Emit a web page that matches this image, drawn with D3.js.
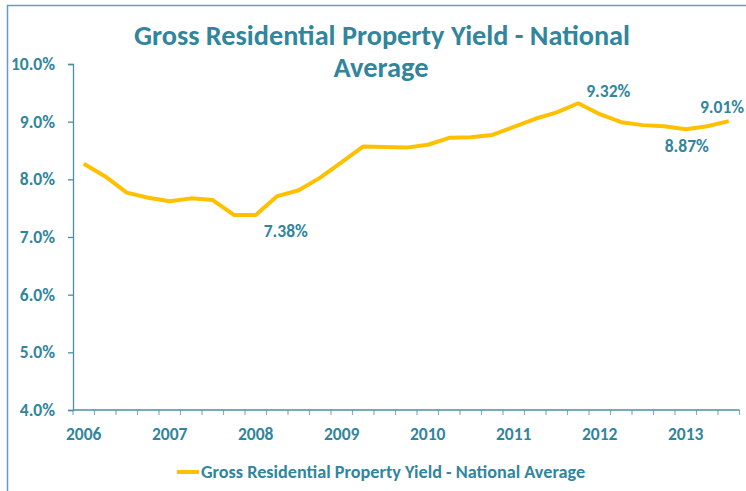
<!DOCTYPE html>
<html>
<head>
<meta charset="utf-8">
<script src="https://cdn.jsdelivr.net/npm/d3@7"></script>
<style>
  html, body { margin: 0; padding: 0; background: #fff; overflow: hidden; }
  svg { display: block; }
  text { font-family: Carlito, Calibri, Lato, "Open Sans", sans-serif; font-weight: bold; fill: #31859C; }
</style>
</head>
<body>
<svg id="chart" width="746" height="491"></svg>
<script>
// ---- data ----
const categories = [
  "2006 Q1","2006 Q2","2006 Q3","2006 Q4",
  "2007 Q1","2007 Q2","2007 Q3","2007 Q4",
  "2008 Q1","2008 Q2","2008 Q3","2008 Q4",
  "2009 Q1","2009 Q2","2009 Q3","2009 Q4",
  "2010 Q1","2010 Q2","2010 Q3","2010 Q4",
  "2011 Q1","2011 Q2","2011 Q3","2011 Q4",
  "2012 Q1","2012 Q2","2012 Q3","2012 Q4",
  "2013 Q1","2013 Q2","2013 Q3"
];
const yieldValues = [
  8.27, 8.05, 7.77, 7.68, 7.62, 7.67, 7.64, 7.38,
  7.38, 7.71, 7.81, 8.03, 8.30, 8.57, 8.56, 8.55,
  8.60, 8.72, 8.73, 8.77, 8.91, 9.05, 9.16, 9.32,
  9.13, 8.99, 8.94, 8.92, 8.87, 8.92, 9.01
];
const yearLabels = ["2006","2007","2008","2009","2010","2011","2012","2013"];
const yTicks = [4, 5, 6, 7, 8, 9, 10];
const labelledIndex = [8, 23, 28, 30];
const seriesName = "Gross Residential Property Yield - National Average";
const titleLines = ["Gross Residential Property Yield - National", "Average"];

// ---- layout ----
const TEAL = "#31859C";
const AXIS = "#4A8FA6";
const GOLD = "#FFC000";
const svg = d3.select("#chart");

// outer chart border
svg.append("rect")
  .attr("x", 7.5).attr("y", 5.5)
  .attr("width", 800).attr("height", 600)
  .attr("fill", "none").attr("stroke", "#6F95D0").attr("stroke-width", 1.5);

const x = d3.scaleBand().domain(categories).range([73, 739.5]).padding(0);
const y = d3.scaleLinear().domain([4, 10]).range([410, 64]);

function fitText(sel, target) {
  sel.each(function () {
    const el = d3.select(this);
    const fs = parseFloat(el.attr("font-size"));
    const w = this.getComputedTextLength();
    if (w > 0) el.attr("font-size", (fs * target / w).toFixed(2));
  });
}

// title
const title = svg.append("g");
title.append("text").attr("x", 382).attr("y", 45).attr("text-anchor", "middle")
  .attr("font-size", 26).text(titleLines[0]).call(fitText, 496);
title.append("text").attr("x", 381).attr("y", 77).attr("text-anchor", "middle")
  .attr("font-size", 26).text(titleLines[1]).call(fitText, 95);

// y axis
const yAxis = svg.append("g").attr("transform", "translate(73,0)")
  .call(d3.axisLeft(y).tickValues(yTicks).tickFormat(d => d.toFixed(1) + "%").tickSize(5).tickPadding(13));
yAxis.select(".domain").attr("stroke", AXIS).attr("stroke-width", 1.3);
yAxis.selectAll(".tick line").attr("stroke", AXIS).attr("stroke-width", 1.3);
yAxis.selectAll(".tick text").attr("font-size", 17.5).attr("fill", TEAL)
  .attr("font-family", null);

// x axis (category boundaries as ticks)
const xg = svg.append("g");
const x0 = x.range()[0], x1 = x.range()[1];
xg.append("line").attr("x1", x0).attr("x2", x1).attr("y1", y(4)).attr("y2", y(4))
  .attr("stroke", AXIS).attr("stroke-width", 1.3);
const boundaries = categories.map(c => x(c)).concat([x1]);
xg.selectAll("line.tk").data(boundaries).join("line").attr("class", "tk")
  .attr("x1", d => d).attr("x2", d => d)
  .attr("y1", y(4)).attr("y2", y(4) + 5)
  .attr("stroke", AXIS).attr("stroke-opacity", 0.7).attr("stroke-width", 1.2);
xg.selectAll("text.yr").data(yearLabels).join("text").attr("class", "yr")
  .attr("x", d => x(d + " Q1") + x.bandwidth() / 2)
  .attr("y", 439.5).attr("text-anchor", "middle").attr("font-size", 17.5)
  .text(d => d);

// line
const line = d3.line()
  .x((d, i) => x(categories[i]) + x.bandwidth() / 2)
  .y(d => y(d));
svg.append("path").datum(yieldValues)
  .attr("d", line).attr("fill", "none")
  .attr("stroke", GOLD).attr("stroke-width", 4)
  .attr("stroke-linejoin", "round").attr("stroke-linecap", "butt");

// data labels
const labelOffsets = { 8: [30, 22], 23: [30, -6], 28: [1, 23], 30: [-6, -8] };
svg.selectAll("text.dl").data(labelledIndex).join("text").attr("class", "dl")
  .attr("x", i => Math.min(x(categories[i]) + x.bandwidth() / 2 + labelOffsets[i][0], 722))
  .attr("y", i => y(yieldValues[i]) + labelOffsets[i][1])
  .attr("text-anchor", "middle").attr("font-size", 17.5)
  .text(i => yieldValues[i].toFixed(2) + "%");

// legend
const lg = svg.append("g");
lg.append("line").attr("x1", 177).attr("x2", 199).attr("y1", 472).attr("y2", 472)
  .attr("stroke", GOLD).attr("stroke-width", 4);
lg.append("text").attr("x", 201).attr("y", 478).attr("font-size", 16)
  .text(seriesName).call(fitText, 384);
</script>
</body>
</html>
